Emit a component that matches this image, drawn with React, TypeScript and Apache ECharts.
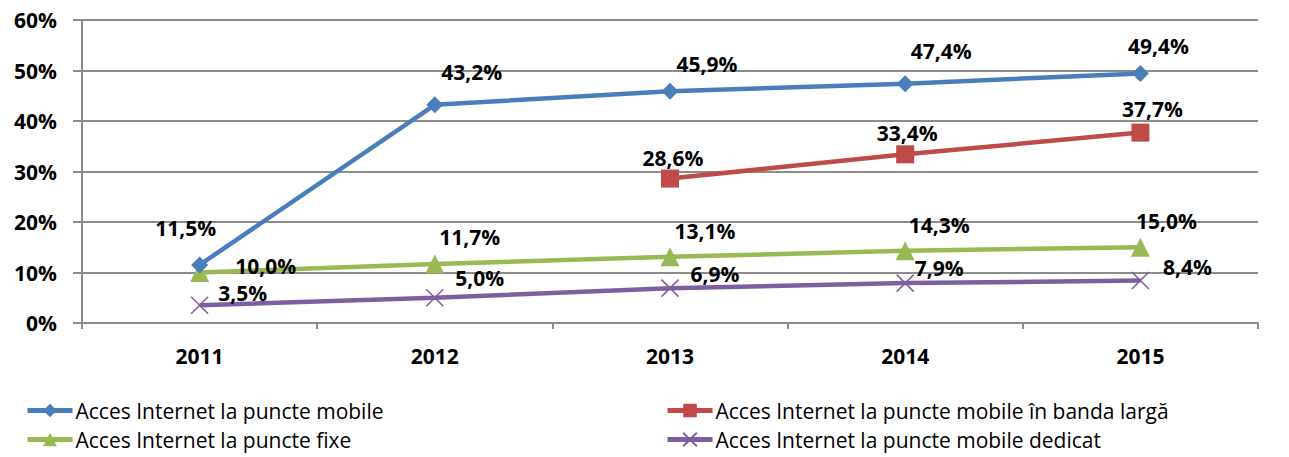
import React, { useEffect, useRef } from "react";
import * as echarts from "echarts";

const categories = ["2011", "2012", "2013", "2014", "2015"];
const seriesNames = [
  "Acces Internet la puncte mobile",
  "Acces Internet la puncte mobile în banda largă",
  "Acces Internet la puncte fixe",
  "Acces Internet la puncte mobile dedicat",
];
const mobile = [11.5, 43.2, 45.9, 47.4, 49.4];
const broadband = [null, null, 28.6, 33.4, 37.7];
const fixed = [10.0, 11.7, 13.1, 14.3, 15.0];
const dedicated = [3.5, 5.0, 6.9, 7.9, 8.4];
const yTicks = [0, 10, 20, 30, 40, 50, 60];

const colors = ["#4A7EBB", "#BE4B48", "#98B954", "#7D5FA0"];

const labelOffsets = [
  [[-14, -37], [37, -33], [37, -27], [36, -33], [18, -28]],
  [[0, 0], [0, 0], [3, -21], [2, -21], [12, -24]],
  [[66, -7], [35, -27], [35, -26], [34, -26], [26, -26]],
  [[43, -12], [45, -20], [45, -14], [34, -15], [47, -14]],
];

const FONT = "'Open Sans', 'Noto Sans', sans-serif";
const crossPath = "path://M0,0 L10,10 M10,0 L0,10";

export default function App() {
  const ref = useRef<HTMLDivElement>(null);
  useEffect(() => {
    if (!ref.current) return;
    const chart = echarts.init(ref.current, null, { renderer: "svg" });
    const datasets = [mobile, broadband, fixed, dedicated];
    const symbols = ["diamond", "rect", "triangle", crossPath];
    const symbolSizes = [17, 18, 19, 17];
    const series = datasets.map((d, si) => ({
      name: seriesNames[si],
      type: "line",
      data: d.map((v, i) =>
        v === null
          ? null
          : {
              value: v,
              label: { offset: labelOffsets[si][i] },
            }
      ),
      connectNulls: false,
      symbol: symbols[si],
      symbolSize: symbolSizes[si],
      showAllSymbol: true,
      lineStyle: { color: colors[si], width: 4.5 },
      itemStyle:
        si === 3
          ? { color: colors[si], borderColor: colors[si], borderWidth: 1.5 }
          : { color: colors[si], borderWidth: 0 },
      label: {
        show: true,
        position: "inside",
        align: "center",
        verticalAlign: "middle",
        formatter: (p: any) => p.value.toFixed(1).replace(".", ",") + "%",
        fontFamily: FONT,
        fontWeight: "bold",
        fontSize: 21,
        color: "#000",
      },
      emphasis: { disabled: true },
      z: 10 - si,
    }));
    const legendPos = [
      { left: 25, top: 400 },
      { left: 665, top: 400 },
      { left: 25, top: 429 },
      { left: 665, top: 429 },
    ];
    const legends = seriesNames.map((n, i) => ({
      data: [n],
      left: legendPos[i].left,
      top: legendPos[i].top,
      itemWidth: 45,
      itemHeight: 17,
      itemGap: 0,
      padding: 0,
      lineStyle: { width: 5 },
      textStyle: {
        fontFamily: FONT,
        fontSize: 21,
        color: "#000",
        padding: [0, 0, 0, -2],
      },
      selectedMode: false,
    }));
    chart.setOption({
      animation: false,
      legend: legends,
      grid: { left: 82, right: 31, top: 20, bottom: 134 },
      xAxis: {
        type: "category",
        data: categories,
        boundaryGap: true,
        axisLine: { lineStyle: { color: "#8C8C8C", width: 2 } },
        axisTick: { show: true, length: 6, lineStyle: { color: "#8C8C8C", width: 2 } },
        axisLabel: {
          fontFamily: FONT,
          fontWeight: "bold",
          fontSize: 21,
          color: "#000",
          margin: 22,
        },
      },
      yAxis: {
        type: "value",
        min: 0,
        max: 60,
        interval: 10,
        axisLine: { show: true, lineStyle: { color: "#8C8C8C", width: 2 } },
        axisTick: { show: true, length: 9, lineStyle: { color: "#8C8C8C", width: 2 } },
        splitLine: { lineStyle: { color: "#8C8C8C", width: 2 } },
        axisLabel: {
          formatter: (v: number) => (yTicks.includes(v) ? v + "%" : ""),
          fontFamily: FONT,
          fontWeight: "bold",
          fontSize: 21,
          color: "#000",
          margin: 25,
        },
      },
      series,
    });
    return () => chart.dispose();
  }, []);
  return (
    <div
      ref={ref}
      style={{ position: "fixed", left: 0, top: 0, width: 1289, height: 457, background: "#fff" }}
    />
  );
}
